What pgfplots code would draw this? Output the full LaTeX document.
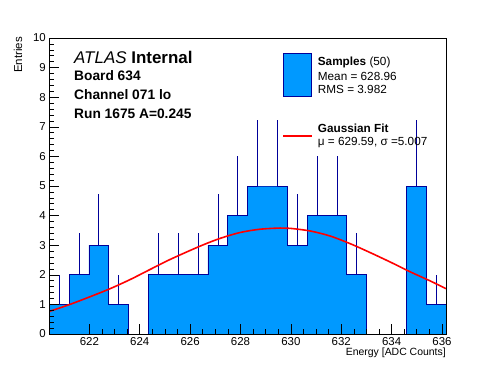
\documentclass[border=0pt]{standalone}
\usepackage{fontspec}
\setmainfont{Liberation Sans}
\usepackage{pgfplots}
\pgfplotsset{compat=1.18}
\definecolor{histfill}{RGB}{0,153,255}
\definecolor{histline}{RGB}{0,0,153}
\begin{document}
\begin{tikzpicture}[x=1bp,y=1bp]
\useasboundingbox (0,0) rectangle (496,372);
\begin{axis}[
  at={(49.3bp,38bp)}, anchor=south west,
  scale only axis, width=396.7bp, height=296bp,
  xmin=620.41, xmax=636.16, ymin=0, ymax=10,
  axis on top,
  axis line style={line width=0.8pt},
  xtick={622,624,...,636}, minor x tick num=3,
  ytick={0,...,10}, minor y tick num=4,
  tick align=inside, xtick pos=bottom, ytick pos=left,
  major tick length=10bp, minor tick length=5bp,
  tick style={black, line width=0.6pt},
  ticklabel style={font=\fontsize{11.5}{13}\selectfont},
  /pgf/number format/assume math mode=true,
  /pgf/number format/1000 sep={},
  clip=true,
]
\addplot[const plot, fill=histfill, draw=histline, line width=0.8pt] coordinates {
(620.41,1) (621.1975,2) (621.985,3) (622.7725,1) (623.56,0)
(624.3475,2) (625.135,2) (625.9225,2) (626.71,3) (627.4975,4)
(628.285,5) (629.0725,5) (629.86,3) (630.6475,4) (631.435,4)
(632.2225,2) (633.01,0) (633.7975,0) (634.585,5) (635.3725,1) (636.16,1)
} \closedcycle;
\addplot[draw=none, mark=none,
  error bars/.cd, y dir=plus, y explicit, error mark=none,
  error bar style={draw=histline, line width=0.8pt}] coordinates {
(620.80375,1) +- (0,1)
(621.59125,2) +- (0,1.414)
(622.37875,3) +- (0,1.732)
(623.16625,1) +- (0,1)
(624.74125,2) +- (0,1.414)
(625.52875,2) +- (0,1.414)
(626.31625,2) +- (0,1.414)
(627.10375,3) +- (0,1.732)
(627.89125,4) +- (0,2)
(628.67875,5) +- (0,2.236)
(629.46625,5) +- (0,2.236)
(630.25375,3) +- (0,1.732)
(631.04125,4) +- (0,2)
(631.82875,4) +- (0,2)
(632.61625,2) +- (0,1.414)
(634.97875,5) +- (0,2.236)
(635.76625,1) +- (0,1)
};
\addplot[red, line width=1.6pt, smooth] coordinates {
(620.41,0.76) (620.44,0.77) (621.23,1.00) (622.03,1.26) (622.82,1.53) (623.62,1.84)
(624.41,2.18) (625.21,2.52) (626.40,2.97) (627.19,3.23) (627.99,3.43)
(628.78,3.54) (629.58,3.58) (629.97,3.57) (630.77,3.48) (631.56,3.31)
(632.36,3.05) (633.15,2.75) (633.95,2.43) (634.74,2.10) (635.54,1.79) (636.16,1.53)
};
\end{axis}
% texts
\node[anchor=base west, inner sep=0] at (74,308.7) {\fontsize{17}{20}\selectfont\textit{ATLAS} \textbf{Internal}};
\node[anchor=base west, inner sep=0] at (74,292) {\fontsize{13.8}{16}\selectfont\textbf{Board 634}};
\node[anchor=base west, inner sep=0] at (74,272.7) {\fontsize{13.8}{16}\selectfont\textbf{Channel 071 lo}};
\node[anchor=base west, inner sep=0] at (74,253.7) {\fontsize{13.8}{16}\selectfont\textbf{Run 1675 A=0.245}};
% legend
\filldraw[fill=histfill, draw=histline, line width=0.8pt] (283.3,275.3) rectangle (311.7,318.7);
\draw[red, line width=1.6pt] (283,236) -- (312,236);
\node[anchor=base west, inner sep=0] at (317.7,306.3) {\fontsize{11.8}{14}\selectfont\textbf{Samples} (50)};
\node[anchor=base west, inner sep=0] at (317.7,291.3) {\fontsize{11.8}{14}\selectfont Mean = 628.96};
\node[anchor=base west, inner sep=0] at (317.7,278.7) {\fontsize{11.8}{14}\selectfont RMS = 3.982};
\node[anchor=base west, inner sep=0] at (317.7,239.7) {\fontsize{11.8}{14}\selectfont\textbf{Gaussian Fit}};
\node[anchor=base west, inner sep=0] at (317.7,227) {\fontsize{11.8}{14}\selectfont μ = 629.59, σ =5.007};
% axis titles
\node[rotate=90, anchor=north east, inner sep=0] at (13.5,335) {\fontsize{11.5}{13}\selectfont Entries};
\node[anchor=base east, inner sep=0] at (446,17) {\fontsize{10.5}{12}\selectfont Energy [ADC Counts]};
\end{tikzpicture}
\end{document}
